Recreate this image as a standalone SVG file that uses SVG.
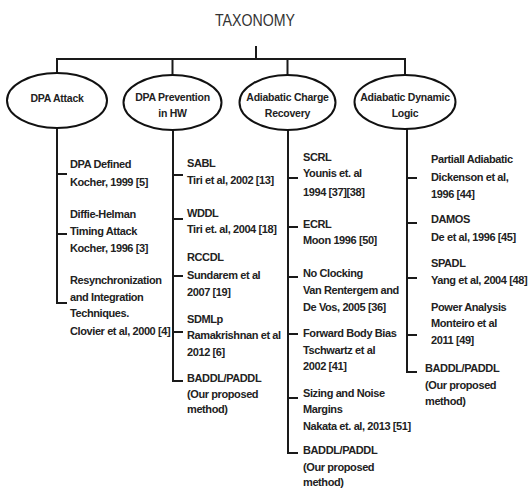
<svg xmlns="http://www.w3.org/2000/svg" width="528" height="488" viewBox="0 0 528 488">
<style>
.bg{fill:#ffffff}
.ln{fill:none;stroke:#1a1a1a;stroke-width:2}
.el{fill:#ffffff;stroke:#111111;stroke-width:2}
.title{font-family:"Liberation Sans",Arial,sans-serif;font-size:17px;fill:#333333}
.nl{font-family:"Liberation Sans",Arial,sans-serif;font-size:10.5px;font-weight:bold;fill:#222222;text-anchor:middle;letter-spacing:-0.25px}
.t{font-family:"Liberation Sans",Arial,sans-serif;font-size:11px;font-weight:bold;fill:#222222;letter-spacing:-0.4px}
</style>
<rect class="bg" x="0" y="0" width="528" height="488"/>
<text class="title" x="215" y="26" textLength="80" lengthAdjust="spacingAndGlyphs">TAXONOMY</text>
<g id="connectors">
<path class="ln" d="M256 46V59M56 59H406M57 59V73M172.5 59V75M287.5 59V75M405 59V75"/>
<path class="ln" d="M57 128V303H67M57 174H67M57 234H67"/>
<path class="ln" d="M173 130V381H183M173 175H183M173 219H183M173 276H183M173 332H183"/>
<path class="ln" d="M288 130V453H298M288 178H298M288 227H298M288 277H298M288 334H298M288 398H298"/>
<path class="ln" d="M407 129V372H417M407 178H417M407 223H417M407 278H417M407 335H417"/>
</g>
<g id="n1"><ellipse class="el" cx="57" cy="100.5" rx="50" ry="27.5"/><text class="nl" x="57" y="101.5">DPA Attack</text></g>
<g id="n2"><ellipse class="el" cx="172.5" cy="102.5" rx="49" ry="27.5"/><text class="nl" x="172.5" y="101">DPA Prevention</text><text class="nl" x="172.5" y="117">in HW</text></g>
<g id="n3"><ellipse class="el" cx="287.5" cy="102.5" rx="48" ry="27.5"/><text class="nl" x="287.5" y="101">Adiabatic Charge</text><text class="nl" x="287.5" y="117">Recovery</text></g>
<g id="n4"><ellipse class="el" cx="405" cy="102" rx="50.5" ry="27"/><text class="nl" x="405" y="101">Adiabatic Dynamic</text><text class="nl" x="405" y="117">Logic</text></g>
<g id="c1">
<text class="t" x="70" y="167.5">DPA Defined</text>
<text class="t" x="70" y="185.5">Kocher, 1999 [5]</text>
<text class="t" x="70" y="217.5">Diffie-Helman</text>
<text class="t" x="70" y="234.5">Timing Attack</text>
<text class="t" x="70" y="251.5">Kocher, 1996 [3]</text>
<text class="t" x="70" y="283.5">Resynchronization</text>
<text class="t" x="70" y="300.5">and Integration</text>
<text class="t" x="70" y="316.5">Techniques.</text>
<text class="t" x="70" y="334.5">Clovier et al, 2000 [4]</text>
</g>
<g id="c2">
<text class="t" x="187" y="166.5">SABL</text>
<text class="t" x="187" y="183.5">Tiri et al, 2002 [13]</text>
<text class="t" x="187" y="216.5">WDDL</text>
<text class="t" x="187" y="232.5">Tiri et. al, 2004 [18]</text>
<text class="t" x="187" y="260.5">RCCDL</text>
<text class="t" x="187" y="278.5">Sundarem et al</text>
<text class="t" x="187" y="295.5">2007 [19]</text>
<text class="t" x="187" y="322.5">SDMLp</text>
<text class="t" x="187" y="338.5">Ramakrishnan et al</text>
<text class="t" x="187" y="355.5">2012 [6]</text>
<text class="t" x="187" y="381.5">BADDL/PADDL</text>
<text class="t" x="187" y="397.5">(Our proposed</text>
<text class="t" x="187" y="412.5">method)</text>
</g>
<g id="c3">
<text class="t" x="303" y="160.5">SCRL</text>
<text class="t" x="303" y="176.5">Younis et. al</text>
<text class="t" x="303" y="195.5">1994 [37][38]</text>
<text class="t" x="303" y="227.5">ECRL</text>
<text class="t" x="303" y="243.5">Moon 1996 [50]</text>
<text class="t" x="303" y="276.5">No Clocking</text>
<text class="t" x="303" y="293.5">Van Rentergem and</text>
<text class="t" x="303" y="310.5">De Vos, 2005 [36]</text>
<text class="t" x="303" y="336.5">Forward Body Bias</text>
<text class="t" x="303" y="353.5">Tschwartz et al</text>
<text class="t" x="303" y="369.5">2002 [41]</text>
<text class="t" x="303" y="396.5">Sizing and Noise</text>
<text class="t" x="303" y="412.5">Margins</text>
<text class="t" x="303" y="429.5">Nakata et. al, 2013 [51]</text>
<text class="t" x="303" y="453.5">BADDL/PADDL</text>
<text class="t" x="303" y="470.5">(Our proposed</text>
<text class="t" x="303" y="486">method)</text>
</g>
<g id="c4">
<text class="t" x="431" y="162.5">Partiall Adiabatic</text>
<text class="t" x="431" y="180.5">Dickenson et al,</text>
<text class="t" x="431" y="197.5">1996 [44]</text>
<text class="t" x="431" y="222.5">DAMOS</text>
<text class="t" x="431" y="240.5">De et al, 1996 [45]</text>
<text class="t" x="431" y="266.5">SPADL</text>
<text class="t" x="431" y="283.5">Yang et al, 2004 [48]</text>
<text class="t" x="431" y="310.5">Power Analysis</text>
<text class="t" x="431" y="326.5">Monteiro et al</text>
<text class="t" x="431" y="343.5">2011 [49]</text>
<text class="t" x="425" y="371.5">BADDL/PADDL</text>
<text class="t" x="425" y="388.5">(Our proposed</text>
<text class="t" x="425" y="404.5">method)</text>
</g>
</svg>
